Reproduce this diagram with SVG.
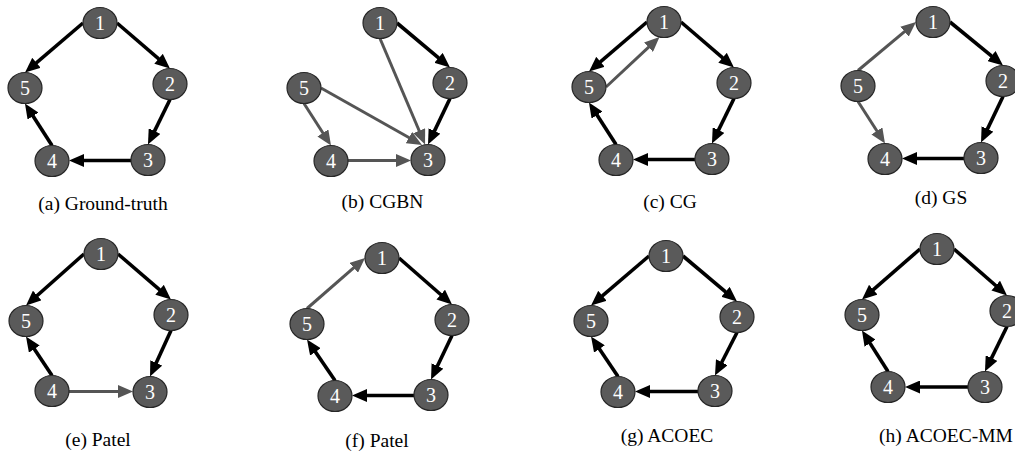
<svg xmlns="http://www.w3.org/2000/svg" width="1015" height="455" viewBox="0 0 1015 455">
<style>
.nd ellipse{fill:#5a5a5a;stroke:#262626;stroke-width:1.2}
.nd text{fill:#fff;font-family:'Liberation Serif','Times New Roman','DejaVu Serif',serif;font-size:20px;text-anchor:middle}
.cap{fill:#000;font-family:'Liberation Serif','Times New Roman','DejaVu Serif',serif;font-size:19.5px;text-anchor:middle}
.eb{stroke:#000;stroke-width:3.6;fill:none;marker-end:url(#ab)}
.eg{stroke:#555;stroke-width:3;fill:none;marker-end:url(#ag)}
</style>
<defs>
<marker id="ab" markerUnits="userSpaceOnUse" markerWidth="15" markerHeight="13" refX="9" refY="6.5" orient="auto"><path d="M0,0 L15,6.5 L0,13 z" fill="#000"/></marker>
<marker id="ag" markerUnits="userSpaceOnUse" markerWidth="15" markerHeight="13" refX="9" refY="6.5" orient="auto"><path d="M0,0 L15,6.5 L0,13 z" fill="#555"/></marker>
</defs>

<!-- (a) -->
<g id="connectors-a">
<line class="eb" x1="83" y1="23" x2="29.6" y2="68.6"/>
<line class="eb" x1="117" y1="23" x2="165.4" y2="64.6"/>
<line class="eb" x1="170" y1="99.5" x2="150.6" y2="139.1"/>
<line class="eb" x1="131" y1="160.5" x2="75" y2="160.5"/>
<line class="eb" x1="52" y1="145.5" x2="28.2" y2="108.5"/>
</g>
<g id="a-n1" class="nd"><ellipse cx="100" cy="23" rx="17" ry="15.5"/><text x="100" y="30">1</text></g>
<g id="a-n2" class="nd"><ellipse cx="170" cy="84" rx="17" ry="15.5"/><text x="170" y="91">2</text></g>
<g id="a-n3" class="nd"><ellipse cx="148" cy="160" rx="17" ry="15.5"/><text x="148" y="167">3</text></g>
<g id="a-n4" class="nd"><ellipse cx="52" cy="161" rx="17" ry="15.5"/><text x="52" y="168">4</text></g>
<g id="a-n5" class="nd"><ellipse cx="25" cy="88" rx="17" ry="15.5"/><text x="25" y="95">5</text></g>
<text id="cap-a" class="cap" x="103" y="210">(a) Ground-truth</text>

<!-- (b) -->
<g id="connectors-b">
<line class="eg" x1="380" y1="38.5" x2="422.7" y2="139"/>
<line class="eg" x1="321" y1="88" x2="416.8" y2="142"/>
<line class="eg" x1="304" y1="103.5" x2="327.75" y2="140.45"/>
<line class="eg" x1="348" y1="160.5" x2="405" y2="160.5"/>
<line class="eb" x1="397" y1="23" x2="445.4" y2="63.6"/>
<line class="eb" x1="450" y1="98.5" x2="430.6" y2="139.1"/>
</g>
<g id="b-n1" class="nd"><ellipse cx="380" cy="23" rx="17" ry="15.5"/><text x="380" y="30">1</text></g>
<g id="b-n2" class="nd"><ellipse cx="450" cy="83" rx="17" ry="15.5"/><text x="450" y="90">2</text></g>
<g id="b-n3" class="nd"><ellipse cx="428" cy="160" rx="17" ry="15.5"/><text x="428" y="167">3</text></g>
<g id="b-n4" class="nd"><ellipse cx="331" cy="161" rx="17" ry="15.5"/><text x="331" y="168">4</text></g>
<g id="b-n5" class="nd"><ellipse cx="304" cy="88" rx="17" ry="15.5"/><text x="304" y="95">5</text></g>
<text id="cap-b" class="cap" x="382.5" y="208">(b) CGBN</text>

<!-- (c) -->
<g id="connectors-c">
<line class="eb" x1="647" y1="22" x2="593.6" y2="67.6"/>
<line class="eg" x1="606" y1="87" x2="655.1" y2="41.1"/>
<line class="eb" x1="681" y1="22" x2="729.4" y2="63.6"/>
<line class="eb" x1="734" y1="98.5" x2="714.6" y2="138.1"/>
<line class="eb" x1="695" y1="159.5" x2="639" y2="159.5"/>
<line class="eb" x1="616" y1="144.5" x2="592.2" y2="107.5"/>
</g>
<g id="c-n1" class="nd"><ellipse cx="664" cy="22" rx="17" ry="15.5"/><text x="664" y="29">1</text></g>
<g id="c-n2" class="nd"><ellipse cx="734" cy="83" rx="17" ry="15.5"/><text x="734" y="90">2</text></g>
<g id="c-n3" class="nd"><ellipse cx="712" cy="159" rx="17" ry="15.5"/><text x="712" y="166">3</text></g>
<g id="c-n4" class="nd"><ellipse cx="616" cy="160" rx="17" ry="15.5"/><text x="616" y="167">4</text></g>
<g id="c-n5" class="nd"><ellipse cx="589" cy="87" rx="17" ry="15.5"/><text x="589" y="94">5</text></g>
<text id="cap-c" class="cap" x="670" y="208">(c) CG</text>

<!-- (d) -->
<g id="connectors-d">
<line class="eg" x1="858" y1="70.5" x2="911.4" y2="25.85"/>
<line class="eg" x1="858" y1="101.5" x2="881.75" y2="138.45"/>
<line class="eb" x1="950" y1="22" x2="998.4" y2="61.7"/>
<line class="eb" x1="1003" y1="96.5" x2="983.6" y2="137.1"/>
<line class="eb" x1="964" y1="158.5" x2="908" y2="158.5"/>
</g>
<g id="d-n1" class="nd"><ellipse cx="933" cy="22" rx="17" ry="15.5"/><text x="933" y="29">1</text></g>
<g id="d-n2" class="nd"><ellipse cx="1003" cy="81" rx="17" ry="15.5"/><text x="1003" y="88">2</text></g>
<g id="d-n3" class="nd"><ellipse cx="981" cy="158" rx="17" ry="15.5"/><text x="981" y="165">3</text></g>
<g id="d-n4" class="nd"><ellipse cx="885" cy="159" rx="17" ry="15.5"/><text x="885" y="166">4</text></g>
<g id="d-n5" class="nd"><ellipse cx="858" cy="86" rx="17" ry="15.5"/><text x="858" y="93">5</text></g>
<text id="cap-d" class="cap" x="941" y="204">(d) GS</text>

<!-- (e) -->
<g id="connectors-e">
<line class="eb" x1="84" y1="254" x2="30.5" y2="301.5"/>
<line class="eb" x1="118" y1="254" x2="166.4" y2="295.6"/>
<line class="eb" x1="171" y1="330.5" x2="152.5" y2="371.05"/>
<line class="eb" x1="52" y1="375.5" x2="29.3" y2="341.5"/>
<line class="eg" x1="69" y1="391.5" x2="127" y2="391.5"/>
</g>
<g id="e-n1" class="nd"><ellipse cx="101" cy="254" rx="17" ry="15.5"/><text x="101" y="261">1</text></g>
<g id="e-n2" class="nd"><ellipse cx="171" cy="315" rx="17" ry="15.5"/><text x="171" y="322">2</text></g>
<g id="e-n3" class="nd"><ellipse cx="150" cy="392" rx="17" ry="15.5"/><text x="150" y="399">3</text></g>
<g id="e-n4" class="nd"><ellipse cx="52" cy="391" rx="17" ry="15.5"/><text x="52" y="398">4</text></g>
<g id="e-n5" class="nd"><ellipse cx="26" cy="321" rx="17" ry="15.5"/><text x="26" y="328">5</text></g>
<text id="cap-e" class="cap" x="98" y="446">(e) Patel</text>

<!-- (f) -->
<g id="connectors-f">
<line class="eg" x1="307" y1="308.5" x2="360.5" y2="261.9"/>
<line class="eb" x1="399" y1="258" x2="447.5" y2="300.5"/>
<line class="eb" x1="452" y1="335.5" x2="433.6" y2="374.1"/>
<line class="eb" x1="414" y1="395.5" x2="358" y2="395.5"/>
<line class="eb" x1="335" y1="380.5" x2="310.4" y2="344.5"/>
</g>
<g id="f-n1" class="nd"><ellipse cx="382" cy="258" rx="17" ry="15.5"/><text x="382" y="265">1</text></g>
<g id="f-n2" class="nd"><ellipse cx="452" cy="320" rx="17" ry="15.5"/><text x="452" y="327">2</text></g>
<g id="f-n3" class="nd"><ellipse cx="431" cy="395" rx="17" ry="15.5"/><text x="431" y="402">3</text></g>
<g id="f-n4" class="nd"><ellipse cx="335" cy="396" rx="17" ry="15.5"/><text x="335" y="403">4</text></g>
<g id="f-n5" class="nd"><ellipse cx="307" cy="324" rx="17" ry="15.5"/><text x="307" y="331">5</text></g>
<text id="cap-f" class="cap" x="377" y="446.5">(f) Patel</text>

<!-- (g) -->
<g id="connectors-g">
<line class="eb" x1="649" y1="256" x2="595.6" y2="301.6"/>
<line class="eb" x1="683" y1="256" x2="732.4" y2="297.6"/>
<line class="eb" x1="737" y1="332.5" x2="717.7" y2="370.2"/>
<line class="eb" x1="698" y1="391.5" x2="641" y2="391.5"/>
<line class="eb" x1="618" y1="376.5" x2="594.4" y2="341.5"/>
</g>
<g id="g-n1" class="nd"><ellipse cx="666" cy="256" rx="17" ry="15.5"/><text x="666" y="263">1</text></g>
<g id="g-n2" class="nd"><ellipse cx="737" cy="317" rx="17" ry="15.5"/><text x="737" y="324">2</text></g>
<g id="g-n3" class="nd"><ellipse cx="715" cy="391" rx="17" ry="15.5"/><text x="715" y="398">3</text></g>
<g id="g-n4" class="nd"><ellipse cx="618" cy="392" rx="17" ry="15.5"/><text x="618" y="399">4</text></g>
<g id="g-n5" class="nd"><ellipse cx="591" cy="321" rx="17" ry="15.5"/><text x="591" y="328">5</text></g>
<text id="cap-g" class="cap" x="667" y="441.5">(g) ACOEC</text>

<!-- (h) -->
<g id="connectors-h">
<line class="eb" x1="920" y1="249" x2="866.5" y2="295.6"/>
<line class="eb" x1="954" y1="249" x2="1002.5" y2="291.5"/>
<line class="eb" x1="1007" y1="326.5" x2="987.6" y2="366.1"/>
<line class="eb" x1="968" y1="387" x2="911" y2="387"/>
<line class="eb" x1="888" y1="371.5" x2="865.2" y2="335.6"/>
</g>
<g id="h-n1" class="nd"><ellipse cx="937" cy="249" rx="17" ry="15.5"/><text x="937" y="256">1</text></g>
<g id="h-n2" class="nd"><ellipse cx="1007" cy="311" rx="17" ry="15.5"/><text x="1007" y="318">2</text></g>
<g id="h-n3" class="nd"><ellipse cx="985" cy="387" rx="17" ry="15.5"/><text x="985" y="394">3</text></g>
<g id="h-n4" class="nd"><ellipse cx="888" cy="387" rx="17" ry="15.5"/><text x="888" y="394">4</text></g>
<g id="h-n5" class="nd"><ellipse cx="862" cy="315" rx="17" ry="15.5"/><text x="862" y="322">5</text></g>
<text id="cap-h" class="cap" x="946" y="441.5">(h) ACOEC-MM</text>
</svg>
